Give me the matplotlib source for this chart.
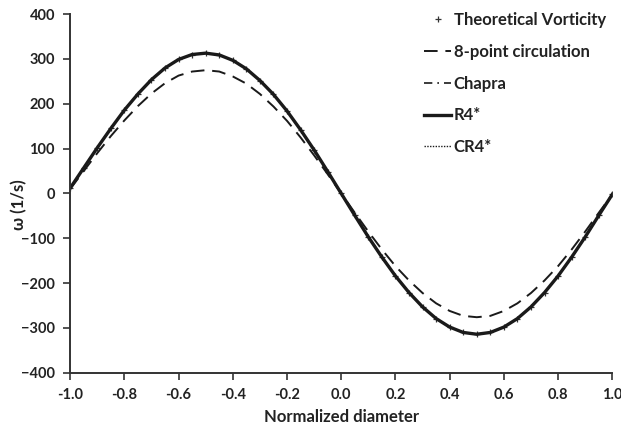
import matplotlib
matplotlib.use("Agg")

import matplotlib.pyplot as plt

# normalized diameter positions (read every 0.05)
x_pos = [-1.00, -0.95, -0.90, -0.85, -0.80, -0.75, -0.70, -0.65, -0.60, -0.55,
         -0.50, -0.45, -0.40, -0.35, -0.30, -0.25, -0.20, -0.15, -0.10, -0.05,
         0.00, 0.05, 0.10, 0.15, 0.20, 0.25, 0.30, 0.35, 0.40, 0.45,
         0.50, 0.55, 0.60, 0.65, 0.70, 0.75, 0.80, 0.85, 0.90, 0.95, 1.00]

# theoretical vorticity (1/s)
omega_theory = [12, 57, 102, 145, 186, 222, 254, 280, 299, 310,
                313, 309, 297, 278, 252, 221, 184, 142, 97, 49,
                0, -49, -97, -142, -184, -221, -253, -279, -298, -310,
                -314, -310, -298, -279, -253, -221, -184, -142, -97, -49, -2]

# 8-point circulation estimate
omega_8pt = [10, 50, 90, 128, 163, 195, 223, 246, 263, 272,
             275, 272, 261, 245, 222, 194, 162, 125, 85, 43,
             0, -43, -85, -125, -162, -194, -222, -245, -262, -273,
             -276, -273, -262, -245, -222, -194, -162, -125, -85, -43, -2]

# Chapra, R4* and CR4* sit on top of the theoretical curve
omega_chapra = [12, 57, 102, 145, 186, 222, 254, 280, 299, 310,
                313, 309, 297, 278, 252, 221, 184, 142, 97, 49,
                0, -49, -97, -142, -184, -221, -253, -279, -298, -310,
                -314, -310, -298, -279, -253, -221, -184, -142, -97, -49, -2]
omega_r4 = list(omega_chapra)
omega_cr4 = list(omega_chapra)

x_ticks = [-1.0, -0.8, -0.6, -0.4, -0.2, 0.0, 0.2, 0.4, 0.6, 0.8, 1.0]
y_ticks = [-400, -300, -200, -100, 0, 100, 200, 300, 400]

plt.rcParams["font.family"] = ["Lato", "DejaVu Sans"]
plt.rcParams["font.weight"] = "bold"

fig = plt.figure(figsize=(6.21, 4.29), dpi=100)
ax = fig.add_axes([0.113, 0.131, 0.873, 0.836])

ink = "#1a1a1a"
ax.plot(x_pos, omega_theory, linestyle="none", marker="+", markersize=5,
        markeredgewidth=0.9, color="#333333", label="Theoretical Vorticity")
ax.plot(x_pos, omega_8pt, linestyle=(0, (7, 4)), linewidth=1.4, color=ink,
        label="8-point circulation")
ax.plot(x_pos, omega_chapra, linestyle=(0, (5, 3, 1, 3)), linewidth=1.2,
        color=ink, label="Chapra")
ax.plot(x_pos, omega_r4, linestyle="-", linewidth=2.4, color=ink, label="R4*")
ax.plot(x_pos, omega_cr4, linestyle=(0, (1, 1)), linewidth=1.0, color=ink,
        label="CR4*")

ax.set_xlim(-1.0, 1.0)
ax.set_ylim(-400, 400)
ax.set_xticks(x_ticks)
ax.set_xticklabels([f"{v:.1f}" for v in x_ticks])
ax.set_yticks(y_ticks)

for side in ("top", "right"):
    ax.spines[side].set_visible(False)
for side in ("left", "bottom"):
    ax.spines[side].set_linewidth(1.4)
    ax.spines[side].set_color("#333333")
ax.tick_params(direction="out", length=5, width=1.2, color="#333333",
               labelsize=10.5, labelcolor="#222222", pad=6)

ax.set_xlabel("Normalized diameter", fontsize=12, fontweight="bold",
              color="#222222", labelpad=5)
ax.set_ylabel("ω (1/s)", fontsize=12, fontweight="bold", color="#222222")
ax.yaxis.set_label_coords(-0.08, 0.47)

leg = ax.legend(loc="upper right", frameon=False, fontsize=12,
                handlelength=1.6, handletextpad=0.15, labelspacing=0.95,
                borderaxespad=0.0, bbox_to_anchor=(1.0, 1.025))
for t in leg.get_texts():
    t.set_fontweight("bold")
    t.set_color("#222222")

fig.savefig("out.png", dpi=100)
